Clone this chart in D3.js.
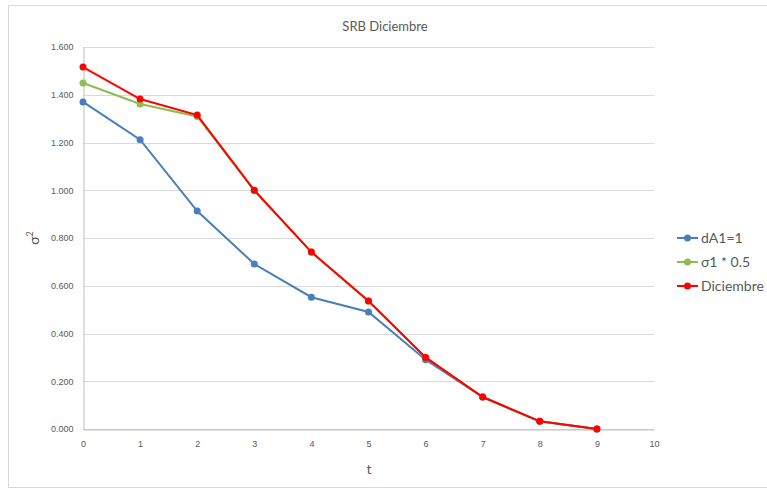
<!DOCTYPE html>
<html>
<head>
<meta charset="utf-8">
<script src="https://cdn.jsdelivr.net/npm/d3@7"></script>
<style>
body { margin: 0; background: #fff; }
svg { font-family: Lato, "Open Sans", sans-serif; }
</style>
</head>
<body>
<div id="chart"></div>
<script>
// data
var tValues = [0, 1, 2, 3, 4, 5, 6, 7, 8, 9];
var dA1 = [1.370, 1.212, 0.913, 0.691, 0.552, 0.490, 0.290, 0.134, 0.032, 0.000];
var sigmaHalf = [1.449, 1.361, 1.309, 0.999, 0.741, 0.536, 0.300, 0.134, 0.032, 0.000];
var diciembre = [1.516, 1.382, 1.315, 1.000, 0.741, 0.536, 0.300, 0.134, 0.032, 0.000];
var yTicks = [0, 0.2, 0.4, 0.6, 0.8, 1.0, 1.2, 1.4, 1.6];
var xTicks = [0, 1, 2, 3, 4, 5, 6, 7, 8, 9, 10];

var seriesNames = ["dA1=1", "\u03c31 * 0.5", "Diciembre"];
var seriesColors = ["#4a7ebb", "#8fbc4f", "#ff0000"];
var seriesData = [dA1, sigmaHalf, diciembre];

var w = 767, h = 490;
var plotLeft = 83, plotRight = 654, plotTop = 47, plotBottom = 429;

var svg = d3.select("#chart").append("svg")
	.attr("width", w)
	.attr("height", h);

// chart frame
svg.append("rect")
	.attr("x", 8.5).attr("y", 5.5)
	.attr("width", 770).attr("height", 482)
	.attr("fill", "none")
	.attr("stroke", "#d9d9d9");

var x = d3.scaleLinear().domain([0, 10]).range([plotLeft, plotRight]);
var y = d3.scaleLinear().domain([0, 1.6]).range([plotBottom, plotTop]);

// gridlines
svg.selectAll("line.grid")
	.data(yTicks)
	.enter()
	.append("line")
	.attr("class", "grid")
	.attr("x1", plotLeft).attr("x2", plotRight)
	.attr("y1", function(d) { return Math.round(y(d)) + 0.5; })
	.attr("y2", function(d) { return Math.round(y(d)) + 0.5; })
	.attr("stroke", "#d9d9d9")
	.attr("stroke-width", 1);

// y axis
var yAxis = svg.append("g")
	.attr("transform", "translate(" + (plotLeft + 0.5) + ",0)")
	.call(d3.axisLeft(y).tickValues(yTicks).tickFormat(d3.format(".3f")).tickSize(0).tickPadding(10));
yAxis.select(".domain").attr("stroke", "#bfbfbf");
yAxis.selectAll("text").attr("fill", "#595959").attr("font-size", "9px");

// x axis
var xAxis = svg.append("g")
	.attr("transform", "translate(0," + (plotBottom + 0.5) + ")")
	.call(d3.axisBottom(x).tickValues(xTicks).tickSize(0).tickPadding(11));
xAxis.select(".domain").attr("stroke", "#bfbfbf");
xAxis.selectAll("text").attr("fill", "#595959").attr("font-size", "9px");

// title and axis titles
svg.append("text")
	.attr("x", 385).attr("y", 31)
	.attr("text-anchor", "middle")
	.attr("font-size", "13px")
	.attr("fill", "#595959")
	.text("SRB Diciembre");

svg.append("text")
	.attr("x", 369).attr("y", 474)
	.attr("text-anchor", "middle")
	.attr("font-size", "14px")
	.attr("fill", "#595959")
	.text("t");

var yTitle = svg.append("text")
	.attr("transform", "translate(39,238) rotate(-90)")
	.attr("text-anchor", "middle")
	.attr("font-size", "14px")
	.attr("fill", "#595959");
yTitle.append("tspan").text("\u03c3");
yTitle.append("tspan").attr("dy", -6).attr("font-size", "9px").text("2");

// lines and markers
var line = d3.line()
	.x(function(d, i) { return x(tValues[i]); })
	.y(function(d) { return y(d); });

seriesData.forEach(function(vals, k) {
	svg.append("path")
		.datum(vals)
		.attr("d", line)
		.attr("fill", "none")
		.attr("stroke", seriesColors[k])
		.attr("stroke-width", 2);
	svg.selectAll("circle.s" + k)
		.data(vals)
		.enter()
		.append("circle")
		.attr("class", "s" + k)
		.attr("cx", function(d, i) { return x(tValues[i]); })
		.attr("cy", function(d) { return y(d); })
		.attr("r", 3.5)
		.attr("fill", seriesColors[k]);
});

// legend
var legend = svg.selectAll("g.legend")
	.data(seriesNames)
	.enter()
	.append("g")
	.attr("class", "legend")
	.attr("transform", function(d, i) { return "translate(677," + (238 + i * 24) + ")"; });
legend.append("line")
	.attr("x1", 0).attr("x2", 21)
	.attr("stroke", function(d, i) { return seriesColors[i]; })
	.attr("stroke-width", 2);
legend.append("circle")
	.attr("cx", 10.5).attr("r", 3.5)
	.attr("fill", function(d, i) { return seriesColors[i]; });
legend.append("text")
	.attr("x", 24).attr("y", 5)
	.attr("font-size", "14px")
	.attr("fill", "#595959")
	.text(function(d) { return d; });
</script>
</body>
</html>
